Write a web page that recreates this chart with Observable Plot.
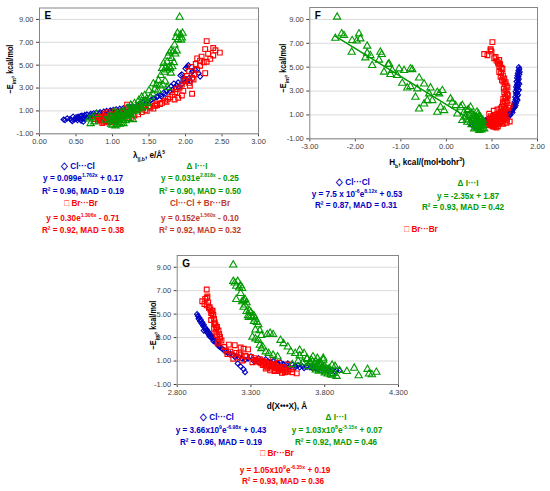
<!DOCTYPE html>
<html><head><meta charset="utf-8">
<script src="https://cdn.jsdelivr.net/npm/d3@7"></script>
<script src="https://cdn.jsdelivr.net/npm/@observablehq/plot@0.6"></script>
<style>
body{margin:0;background:#fff;width:550px;height:491px;position:relative;overflow:hidden;font-family:"Liberation Sans",Arial,sans-serif;}
.p{position:absolute;}
.t{position:absolute;white-space:nowrap;font-weight:bold;font-size:9.5px;line-height:10px;transform:translate(-50%,-50%) scaleX(0.86);}
.yl{position:absolute;white-space:nowrap;font-weight:bold;font-size:8.5px;line-height:10px;transform:translate(-50%,-50%) rotate(-90deg) scaleX(0.86);}
sup,sub{font-size:6px;line-height:0;}
</style></head><body>
<script>
// ---------- tick values ----------
const yTicks = [-1, 1, 3, 5, 7, 9];
const lambdaTicks = [0, 0.5, 1, 1.5, 2, 2.5, 3];
const hbTicks = [-3, -2, -1, 0, 1, 2];
const dTicks = [2.8, 3.3, 3.8, 4.3];

// ---------- Cl···Cl (blue diamonds) ----------
const clE = [5.0,4.85,4.7,4.5,4.4,4.3,4.2,4.1,4.0,3.9,3.8,3.7,3.6,3.5,3.4,3.35,3.25,3.15,3.05,2.95,2.85,2.75,2.6,2.5,2.4,2.3,2.2,2.1,2.0,1.9,1.8,1.75,1.65,1.6,1.5,1.45,1.4,1.35,1.3,1.25,1.2,1.2,1.15,1.1,1.05,1.0,1.0,0.95,0.9,0.9,0.85,0.8,0.8,0.75,0.7,0.7,0.65,0.6,0.55,0.55,0.5,0.5,0.45,0.45,0.4,0.4,0.35,0.35,0.3,0.3,0.25,0.25,0.2,0.2,0.15,0.1,0.05,
  0.3,0.45,0.6,0.75,0.9,0.5,0.65,1.05,0.35,0.85,0.2,2.7,3.1,3.6,4.6,2.25];
const clLambda = [2.04,2.02,2.00,2.10,2.09,2.18,1.95,1.93,2.20,2.05,1.98,1.97,2.02,1.90,1.84,1.95,1.88,1.80,1.86,1.77,1.82,1.74,1.70,1.72,1.66,1.62,1.61,1.57,1.54,1.52,1.48,1.42,1.46,1.38,1.35,1.33,1.28,1.24,1.20,1.15,1.10,1.25,1.05,1.01,0.97,0.92,1.12,0.88,0.83,1.05,0.78,0.74,0.95,0.70,0.65,0.90,0.62,0.58,0.56,0.72,0.53,0.68,0.50,0.80,0.52,0.60,0.38,0.55,0.50,0.62,0.33,0.48,0.52,0.35,0.57,0.45,0.60,
  0.42,0.64,0.70,0.82,0.98,0.46,0.76,1.16,0.58,1.02,0.44,1.79,1.91,2.07,2.13,1.67];
const clHb = [1.59,1.60,1.58,1.57,1.60,1.56,1.58,1.55,1.59,1.57,1.54,1.58,1.56,1.55,1.57,1.53,1.56,1.54,1.58,1.52,1.55,1.53,1.56,1.51,1.54,1.52,1.55,1.50,1.53,1.49,1.52,1.47,1.50,1.48,1.45,1.46,1.43,1.44,1.40,1.42,1.38,1.45,1.35,1.30,1.33,1.25,1.40,1.20,1.15,1.38,1.10,1.05,1.30,1.00,0.95,1.22,0.92,0.88,0.85,1.08,0.82,1.02,0.80,1.12,0.78,0.90,0.70,0.76,0.68,0.85,0.60,0.72,0.65,0.55,0.75,0.58,0.62,
  0.74,0.98,1.05,1.18,1.28,0.70,1.12,1.36,0.95,1.35,0.66,1.57,1.59,1.60,1.61,1.56];
const clD = [2.935,2.94,2.95,2.96,2.955,2.97,2.965,2.98,2.975,2.985,2.99,3.00,2.995,3.01,3.005,3.02,3.015,3.03,3.04,3.035,3.05,3.055,3.06,3.07,3.075,3.08,3.09,3.10,3.11,3.12,3.13,3.14,3.16,3.15,3.18,3.20,3.30,3.19,3.22,3.35,3.24,3.28,3.40,3.26,3.38,3.45,3.32,3.42,3.50,3.36,3.48,3.55,3.21,3.52,3.58,3.46,3.62,3.60,3.65,3.23,3.68,3.56,3.70,3.63,3.72,3.66,3.78,3.74,3.80,3.25,3.85,3.76,3.82,3.88,3.84,3.87,3.26,
  3.82,3.60,3.55,3.48,3.42,3.78,3.52,3.33,3.72,3.44,3.90,3.045,3.02,2.98,2.945,3.085];

// ---------- Br···Br (red squares) ----------
const brE = [7.1,6.5,6.4,6.3,6.1,6.0,5.85,5.75,5.6,5.55,5.4,5.3,5.25,5.1,4.95,4.85,4.6,4.5,4.3,4.2,4.05,3.9,3.8,3.75,3.6,3.45,3.3,3.2,3.05,2.9,2.75,2.65,2.5,2.4,2.35,2.2,2.15,2.05,2.0,1.9,1.8,1.7,1.6,1.55,1.5,1.45,1.35,1.3,1.2,1.15,1.1,1.05,1.0,1.0,0.95,0.9,0.85,0.8,0.75,0.7,0.65,0.6,0.6,0.55,0.5,0.5,0.45,0.4,0.4,0.35,0.3,0.3,0.25,0.2,0.2,0.15,0.1,0.05,0.0,-0.05,0.35,0.7,0.9,1.1,
  0.15,0.25,0.45,0.55,0.65,0.75,0.85,0.95,0.3,0.1,0.5,0.6,1.25,1.4,1.65,0.2,0.4,0.05];
const brLambda = [2.29,2.38,2.27,2.41,2.47,2.31,2.38,2.22,2.16,2.34,2.20,2.29,2.25,2.14,2.20,2.08,2.16,2.05,2.27,2.12,2.02,2.09,2.00,2.11,1.98,2.05,1.95,2.06,1.92,1.88,1.97,1.86,2.09,1.82,1.95,1.79,1.90,1.76,1.85,1.72,1.74,1.68,1.65,1.20,1.61,1.58,1.38,1.52,1.56,1.34,1.45,1.29,1.47,1.15,1.22,1.40,1.10,1.06,1.25,0.98,1.18,0.97,1.30,0.90,1.12,0.85,0.88,1.04,0.81,0.95,0.76,1.08,0.84,0.92,1.15,0.83,1.00,0.88,0.95,0.86,1.20,1.35,0.93,1.25,
  0.80,0.87,0.93,1.02,1.08,0.90,1.16,1.03,0.97,0.91,0.80,1.14,1.42,1.50,1.60,1.07,1.26,0.99];
const brHb = [1.01,0.97,0.97,0.99,0.83,0.90,1.08,1.05,1.16,1.10,1.13,1.14,1.18,1.16,1.21,1.23,1.16,1.20,1.24,1.19,1.27,1.22,1.25,1.30,1.28,1.32,1.34,1.26,1.30,1.27,1.33,1.35,1.29,1.31,1.25,1.34,1.28,1.24,1.32,1.25,1.39,1.22,1.36,1.19,1.30,1.12,1.04,1.34,1.18,1.27,0.94,1.10,1.22,1.06,1.14,0.98,1.30,1.14,1.02,1.20,0.95,1.08,1.26,0.92,1.16,1.00,1.39,0.96,1.12,1.05,0.90,1.22,1.25,0.99,1.08,0.94,0.99,1.02,1.05,1.10,1.32,1.28,1.17,1.15,
  1.00,1.12,1.20,0.97,1.10,1.24,1.02,1.18,1.15,1.08,1.04,1.33,1.21,1.28,1.26,0.96,1.18,1.13];
const brD = [3.00,3.005,3.00,2.99,2.97,3.01,2.985,3.00,3.02,3.015,3.025,3.04,3.035,3.03,3.045,3.04,3.05,3.03,3.055,3.05,3.06,3.07,3.065,3.05,3.08,3.06,3.085,3.07,3.09,3.09,3.10,3.08,3.075,3.15,3.19,3.12,3.23,3.25,3.28,3.13,3.16,3.20,3.14,3.17,3.23,3.26,3.30,3.21,3.18,3.36,3.33,3.24,3.34,3.38,3.35,3.31,3.40,3.37,3.39,3.42,3.44,3.43,3.46,3.41,3.48,3.45,3.50,3.47,3.52,3.44,3.57,3.49,3.53,3.51,3.43,3.48,3.54,3.58,3.51,3.61,3.40,3.55,3.36,3.45,
  3.46,3.50,3.41,3.47,3.38,3.44,3.49,3.39,3.56,3.55,3.52,3.42,3.32,3.27,3.22,3.46,3.50,3.53];

// ---------- I···I (green triangles) ----------
const iE = [9.2,7.8,7.8,7.66,7.43,7.38,7.24,7.2,6.77,6.26,6.26,6.18,6.07,5.98,5.79,5.6,5.28,5.23,5.15,4.87,4.87,4.8,4.73,4.73,4.59,4.39,4.31,4.1,3.66,3.6,3.38,3.27,3.27,3.19,3.05,2.9,2.77,2.77,2.49,2.35,2.21,2.21,2.07,1.93,1.79,1.65,1.65,1.65,1.51,1.37,1.37,1.23,1.23,1.09,0.96,0.82,0.68,0.54,0.54,0.4,0.4,0.26,0.12,-0.16,-0.16,-0.3,1.1,0.85,0.5,0.4,0.7,0.3,0.05,0.1,-0.05,-0.25,0.2,0.35,0.95,0.7,0.2,1.0,0.65,-0.1,0.9,1.25,
  0.0,0.15,0.3,0.45,0.6,0.75,0.85,-0.2,-0.1,0.25,1.15,1.45,1.8,0.55,0.35];
const iLambda = [1.92,1.89,1.96,1.93,1.87,1.95,1.90,1.94,1.85,1.80,1.88,1.83,1.78,1.86,1.76,1.81,1.75,1.84,1.70,1.78,1.82,1.73,1.68,1.79,1.75,1.71,1.80,1.66,1.63,1.72,1.56,1.69,1.60,1.65,1.75,1.58,1.62,1.50,1.55,1.44,1.52,1.40,1.47,1.36,1.42,1.30,1.48,1.38,1.25,1.33,1.45,1.20,1.28,1.35,1.15,1.22,1.05,1.12,1.18,1.00,1.08,0.95,1.02,0.98,1.10,1.04,1.25,1.10,1.14,0.72,1.20,0.68,0.75,1.05,1.12,1.00,1.15,1.22,1.28,0.78,0.90,1.32,1.25,0.70,1.02,1.40,
  1.08,1.18,1.00,1.10,1.16,1.06,1.24,1.06,1.15,1.28,1.30,1.36,1.46,0.96,1.20];
const iHb = [-2.40,-2.30,-1.92,-2.25,-2.44,-1.89,-2.07,-1.97,-1.74,-2.08,-1.45,-1.74,-1.42,-1.67,-1.78,-1.48,-1.26,-1.28,-1.63,-1.04,-0.79,-0.75,-1.19,-0.93,-1.37,-1.23,-1.08,-0.60,-0.97,-0.49,-0.79,-0.86,-0.35,-0.64,-0.09,-0.20,-0.16,-0.38,-0.68,0.09,-0.42,-0.31,0.13,-0.49,0.20,-0.13,0.31,0.53,-0.60,-0.05,0.46,-0.20,0.39,0.24,0.61,0.42,0.68,0.57,0.35,0.53,0.46,0.75,0.64,0.83,0.61,0.72,0.70,0.65,0.72,0.78,0.60,0.68,0.74,0.80,0.66,0.77,0.70,0.62,0.58,0.76,0.55,0.50,0.45,0.79,0.73,0.67,
  0.70,0.63,0.75,0.69,0.74,0.66,0.71,0.75,0.69,0.78,0.56,0.48,0.35,0.80,0.73];
const iD = [3.18,3.21,3.18,3.19,3.23,3.20,3.22,3.24,3.23,3.20,3.26,3.25,3.24,3.27,3.26,3.25,3.29,3.27,3.30,3.32,3.28,3.30,3.285,3.31,3.33,3.32,3.34,3.35,3.33,3.36,3.43,3.41,3.45,3.37,3.31,3.33,3.35,3.50,3.52,3.36,3.55,3.38,3.37,3.63,3.40,3.42,3.66,3.60,3.45,3.72,3.48,3.75,3.68,3.79,3.70,3.76,3.73,3.80,3.69,3.78,3.74,3.82,3.95,4.12,3.84,3.88,3.71,3.65,3.72,4.00,3.77,4.09,4.15,3.81,3.86,4.03,3.78,3.83,3.74,3.58,3.90,3.62,3.85,4.10,3.77,3.79,
  3.80,3.76,3.83,3.79,3.72,3.75,3.70,3.85,3.82,3.74,3.68,3.63,3.57,3.87,3.81];

// ---------- I···I linear fit line in panel F (end points) ----------
const trendHb = [-2.45, 0.75];
const trendE = [7.63, 0.11];

// ---------- styling ----------
const FONT = '"Liberation Sans",Arial,sans-serif';
const BLUE = "#0000c0", RED = "#ff0000", GREEN = "#009a00", BROWN = "#c0392b";

const rows = (xs, ys) => xs.map((x, i) => ({x, y: ys[i]}));

function panel(o) {
  const marks = [
    Plot.ruleY(yTicks, {stroke: "#d9d9d9"}),
    Plot.frame({stroke: "#868686"}),
    Plot.dot(rows(o.cl, clE), {x: "x", y: "y", symbol: "diamond2", r: 2.3, stroke: BLUE, fill: "none", strokeWidth: 1.1}),
    Plot.dot(rows(o.br, brE), {x: "x", y: "y", symbol: "square", r: 2.7, stroke: RED, fill: "none", strokeWidth: 1.1}),
    Plot.dot(rows(o.ii, iE), {x: "x", y: "y", symbol: "triangle", r: 2.7, stroke: GREEN, fill: "none", strokeWidth: 1.1}),
    ...(o.extra || []),
    Plot.text([o.letter], {frameAnchor: "top-left", dx: 5, dy: 4, fontWeight: "bold", fontSize: 10, fill: "#000"})
  ];
  const svg = Plot.plot({
    width: o.w, height: o.h,
    marginLeft: o.ml, marginRight: o.mr, marginTop: o.mt, marginBottom: o.mb,
    style: {fontFamily: FONT, fontSize: "7.5px", color: "#404040", background: "transparent", overflow: "visible"},
    x: {domain: o.xDomain, ticks: o.xTicks, tickFormat: d => d.toFixed(o.xDigits), label: null, tickSize: 3, tickPadding: 2},
    y: {domain: [-1, 10], ticks: yTicks, tickFormat: d => d.toFixed(2), label: null, tickSize: 3, tickPadding: 3},
    marks
  });
  svg.classList.add("p");
  svg.style.left = o.left + "px";
  svg.style.top = o.top + "px";
  document.body.appendChild(svg);
}

panel({left: 0, top: 0, w: 270, h: 172, ml: 39, mr: 12, mt: 7.5, mb: 38.7,
  xDomain: [0, 3], xTicks: lambdaTicks, xDigits: 2, letter: "E",
  cl: clLambda, br: brLambda, ii: iLambda});

panel({left: 270, top: 0, w: 280, h: 172, ml: 39.3, mr: 13, mt: 7, mb: 33.7,
  xDomain: [-3, 2], xTicks: hbTicks, xDigits: 2, letter: "F",
  cl: clHb, br: brHb, ii: iHb,
  extra: [Plot.line(rows(trendHb, trendE), {x: "x", y: "y", stroke: GREEN, strokeWidth: 1.5})]});

panel({left: 135, top: 248, w: 280, h: 160, ml: 41.7, mr: 17, mt: 7, mb: 24,
  xDomain: [2.8, 4.3], xTicks: dTicks, xDigits: 3, letter: "G",
  cl: clD, br: brD, ii: iD});

// ---------- text labels ----------
const ylab = "&minus;E<sub>int</sub>, kcal/mol";
[[10, 69], [283, 68], [153, 325]].forEach(([x, y]) => {
  const d = document.createElement("div");
  d.className = "yl"; d.style.left = x + "px"; d.style.top = y + "px"; d.innerHTML = ylab;
  document.body.appendChild(d);
});

const texts = [
  [149, 155, "#000", "λ<sub>||,b</sub>, e/Å<sup>5</sup>"],
  [78, 166, BLUE, "◇ Cl···Cl"],
  [83, 178, BLUE, "y = 0.099e<sup>1.762x</sup> + 0.17"],
  [83, 191, BLUE, "R² = 0.96, MAD = 0.19"],
  [81, 203, RED, "□ Br···Br"],
  [83, 218, RED, "y = 0.30e<sup>1.306x</sup> - 0.71"],
  [83, 230, RED, "R² = 0.92, MAD = 0.38"],
  [197, 166, GREEN, "Δ I···I"],
  [200, 178, GREEN, "y = 0.031e<sup>2.818x</sup> - 0.25"],
  [200, 191, GREEN, "R² = 0.90, MAD = 0.50"],
  [200, 203, BROWN, "Cl···Cl + Br···Br"],
  [200, 218, BROWN, "y = 0.152e<sup>1.560x</sup> - 0.10"],
  [200, 230, BROWN, "R² = 0.92, MAD = 0.32"],
  [427, 162, "#000", "H<sub>b</sub>, kcal/(mol•bohr<sup>3</sup>)"],
  [353, 182, BLUE, "◇ Cl···Cl"],
  [357, 194, BLUE, "y = 7.5 x 10<sup>-6</sup>e<sup>8.12x</sup> + 0.53"],
  [356, 205, BLUE, "R² = 0.87, MAD = 0.31"],
  [468, 183, GREEN, "Δ I···I"],
  [468, 196, GREEN, "y = -2.35x + 1.87"],
  [463, 207, GREEN, "R² = 0.93, MAD = 0.42"],
  [421, 229, RED, "□ Br···Br"],
  [287, 406, "#000", "d(X•••X), Å"],
  [217, 417, BLUE, "◇ Cl···Cl"],
  [221, 430, BLUE, "y = 3.66x10<sup>9</sup>e<sup>-6.98x</sup> + 0.43"],
  [221, 442, BLUE, "R² = 0.96, MAD = 0.19"],
  [336, 417, GREEN, "Δ I···I"],
  [337, 430, GREEN, "y = 1.03x10<sup>8</sup>e<sup>-5.15x</sup> + 0.07"],
  [336, 442, GREEN, "R² = 0.92, MAD = 0.46"],
  [277, 453, RED, "□ Br···Br"],
  [285, 470, RED, "y = 1.05x10<sup>9</sup>e<sup>-6.35x</sup> + 0.19"],
  [283, 481, RED, "R² = 0.93, MAD = 0.36"]
];
texts.forEach(([x, y, c, h]) => {
  const d = document.createElement("div");
  d.className = "t"; d.style.left = x + "px"; d.style.top = y + "px"; d.style.color = c; d.innerHTML = h;
  document.body.appendChild(d);
});
</script>
</body></html>
